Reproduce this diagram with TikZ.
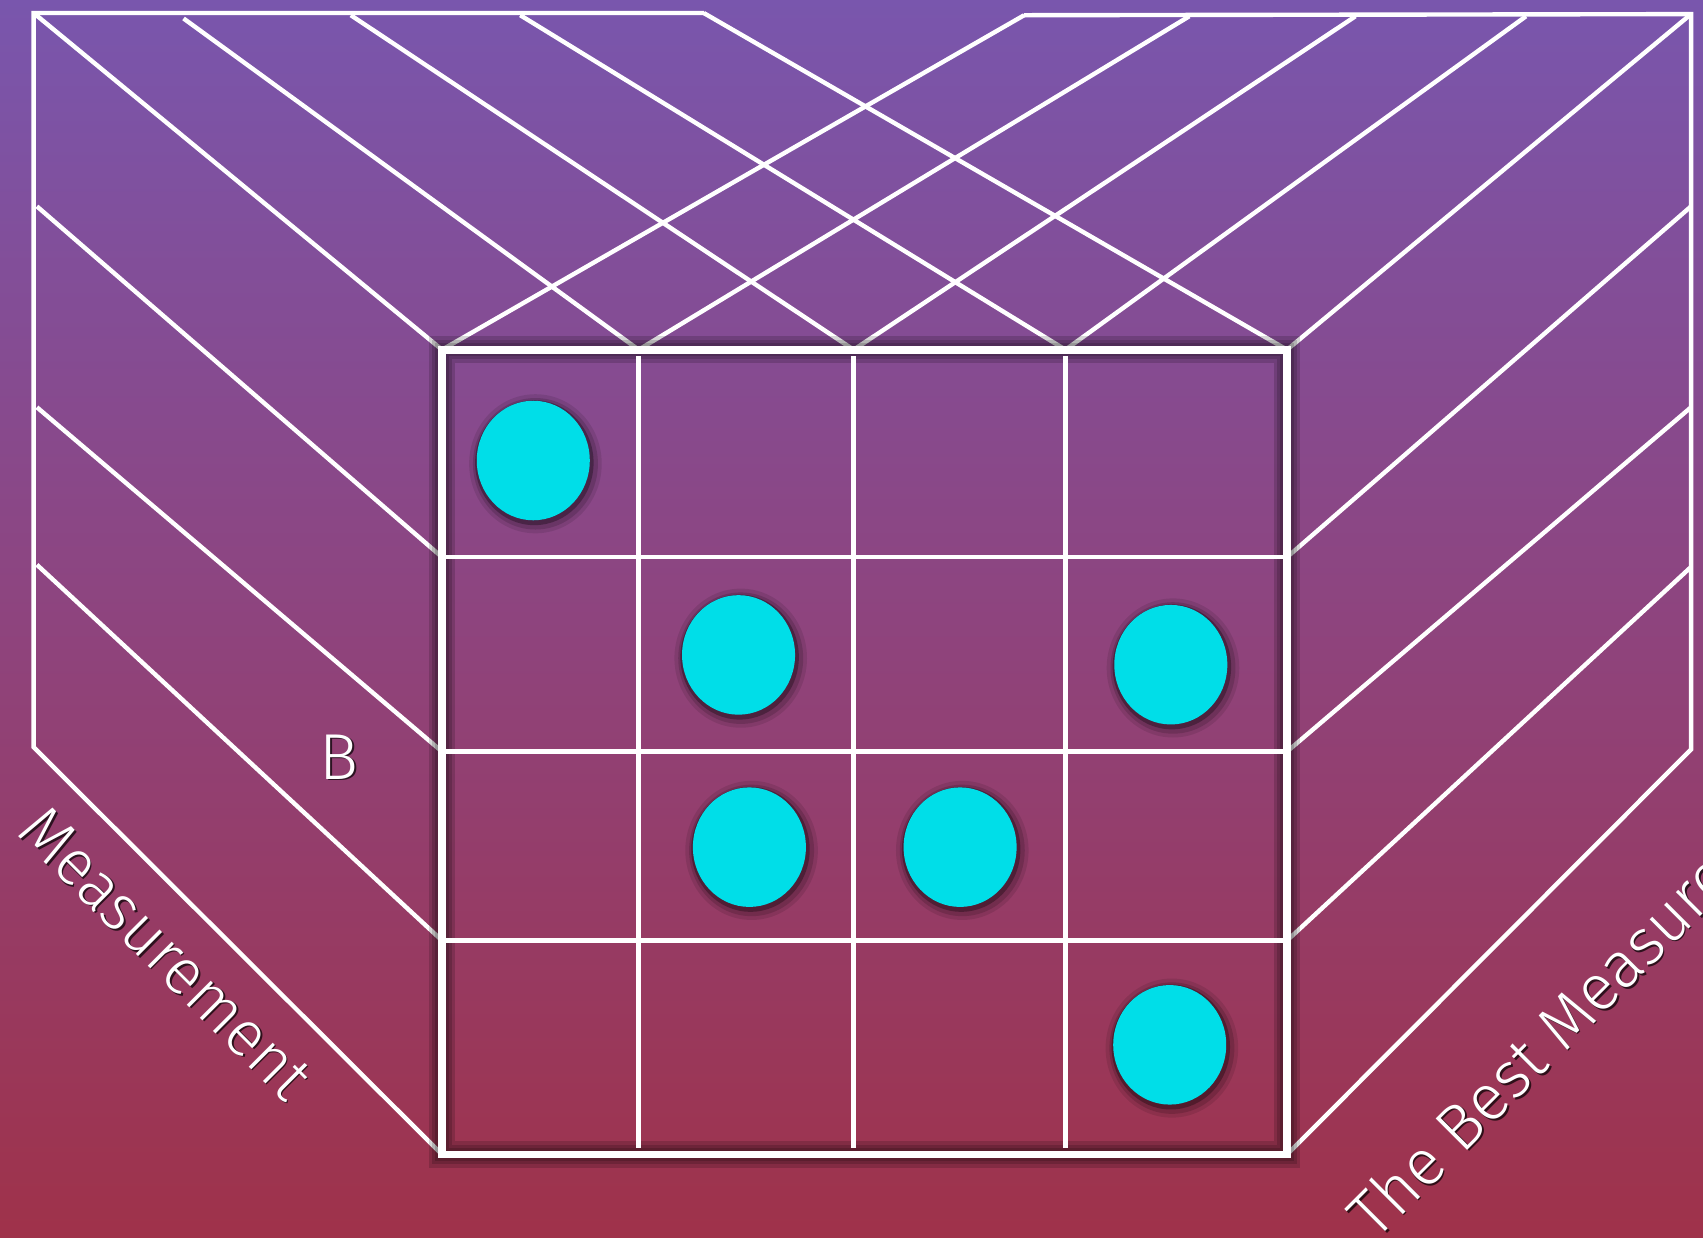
\documentclass[tikz,border=0pt]{standalone}
\usepackage{fontspec}
\newfontfamily\lightfont{Fira Sans Light}
\newfontfamily\lightnarrow{Fira Sans Light}[FakeStretch=0.97]
\usetikzlibrary{shapes.geometric}
\definecolor{bgtop}{RGB}{121,86,173}
\definecolor{bgmid}{RGB}{142,68,126}
\definecolor{bgbot}{RGB}{159,50,74}
\definecolor{dotcyan}{RGB}{0,222,232}
\tikzset{
  wl/.style={white, line width=1.15pt, line cap=butt},
  gridl/.style={white, line width=1.15pt},
  boxl/.style={white, line width=2pt, line join=miter},
  boxshadow/.style={black, line width=#1, opacity=0.16},
  dot/.style={ellipse, fill=dotcyan, draw=none, inner sep=0pt, minimum width=1.04cm, minimum height=1.10cm},
  lbl/.style={text=white, font=\lightfont\fontsize{17}{20}\selectfont, inner sep=0pt},
  lblsh/.style={text=black, opacity=0.7, font=\lightfont\fontsize{17}{20}\selectfont, inner sep=0pt}
}
\begin{document}
\begin{tikzpicture}[x=0.01cm,y=-0.01cm]
\useasboundingbox (0,0) rectangle (1568,1139);
\clip (0,0) rectangle (1568,1139);
\shade[top color=bgtop, bottom color=bgbot, middle color=bgmid] (0,0) rectangle (1568,1139);

% box corners and grid points
\coordinate (TL) at (407,322);
\coordinate (TR) at (1185,322);
\coordinate (BL) at (407,1063);
\coordinate (BR) at (1185,1063);
\coordinate (C1) at (588,322);
\coordinate (C2) at (786,322);
\coordinate (C3) at (981,322);
\coordinate (R1) at (407,513);
\coordinate (R2) at (407,692);
\coordinate (R3) at (407,866);
\coordinate (S1) at (1185,513);
\coordinate (S2) at (1185,692);
\coordinate (S3) at (1185,866);

% outer frame
\coordinate (FTL) at (31,12);
\coordinate (FTR) at (1557,13);
\coordinate (FBL) at (31,688);
\coordinate (FBR) at (1557,690);
\draw[wl] (648,12) -- (FTL) -- (FBL) -- (BL);
\draw[wl] (943,14) -- (FTR) -- (FBR) -- (BR);

% top fans
\draw[wl] (FTL) -- (TL);
\draw[wl] (169,17) -- (C1);
\draw[wl] (323,14) -- (C2);
\draw[wl] (479,14) -- (C3);
\draw[wl] (648,12) -- (TR);
\draw[wl] (943,14) -- (TL);
\draw[wl] (1095,15) -- (C1);
\draw[wl] (1248,15) -- (C2);
\draw[wl] (1405,15) -- (C3);
\draw[wl] (FTR) -- (TR);

% side fans
\draw[wl] (34,190) -- (R1);
\draw[wl] (34,375) -- (R2);
\draw[wl] (34,520) -- (R3);
\draw[wl] (1557,190) -- (S1);
\draw[wl] (1557,375) -- (S2);
\draw[wl] (1557,522) -- (S3);

% box shadow
\draw[boxshadow=7pt] (TL) rectangle (BR);
\draw[boxshadow=5pt] (TL) rectangle (BR);
\draw[boxshadow=3.5pt] (TL) rectangle (BR);

% inner grid
\draw[gridl] (588,328) -- (588,1057);
\draw[gridl] (786,328) -- (786,1057);
\draw[gridl] (981,328) -- (981,1057);
\draw[gridl] (410,513) -- (1182,513);
\draw[gridl] (410,692) -- (1182,692);
\draw[gridl] (410,866) -- (1182,866);

% box outline
\draw[boxl] (TL) rectangle (BR);

% dots with soft shadows
\foreach \n/\px/\py in {1/491/424, 2/680/603, 3/1078/612, 4/690/780, 5/884/780, 6/1077/962}{
  \fill[black, opacity=0.10] (\px+2,\py+3) ellipse [x radius=0.61cm, y radius=0.64cm];
  \fill[black, opacity=0.15] (\px+2,\py+3) ellipse [x radius=0.575cm, y radius=0.605cm];
  \fill[black, opacity=0.30] (\px+1,\py+2) ellipse [x radius=0.545cm, y radius=0.575cm];
  \node[dot] (d\n) at (\px,\py) {};
}

% labels
\node[lblsh] (Bsh) at (313.5,698.5) {B};
\node[lbl] (B) at (312,697) {B};
\node[lblsh, font=\lightnarrow\fontsize{17}{20}\selectfont, rotate=-45, anchor=base west] (msh) at (15.5,768.5) {Measurement};
\node[lbl, font=\lightnarrow\fontsize{17}{20}\selectfont, rotate=-45, anchor=base west] (m) at (14,767) {Measurement};
\node[lblsh, rotate=45, anchor=base west] (tsh) at (1267.5,1145.5) {The Best Measure};
\node[lbl, rotate=45, anchor=base west] (t) at (1266,1144) {The Best Measure};
\end{tikzpicture}
\end{document}
